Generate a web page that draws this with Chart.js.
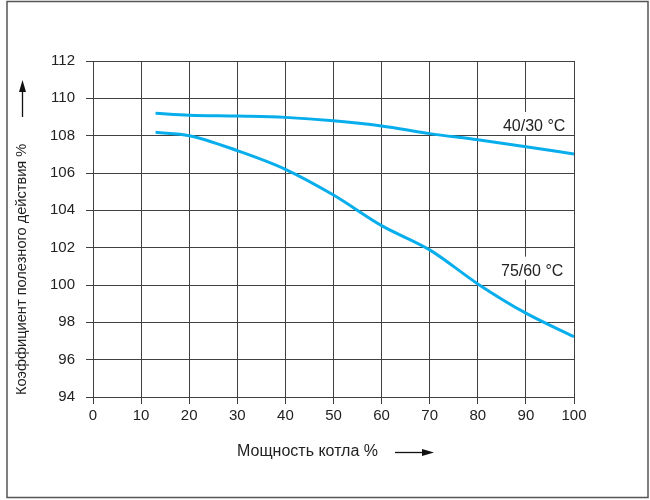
<!DOCTYPE html>
<html>
<head>
<meta charset="utf-8">
<script src="https://cdn.jsdelivr.net/npm/chart.js@4/dist/chart.umd.min.js"></script>
<style>
  html, body { margin: 0; padding: 0; background: #fff; }
  #wrap { width: 650px; height: 500px; position: relative; }
</style>
</head>
<body>
<div id="wrap"><canvas id="c" width="650" height="500"></canvas></div>
<script>
const loadPct = [13, 20, 30, 40, 50, 60, 70, 80, 90, 100];
const eff4030 = [109.2, 109.1, 109.05, 108.98, 108.8, 108.52, 108.11, 107.78, 107.41, 107.02];
const eff7560 = [108.18, 108.0, 107.2, 106.2, 104.82, 103.18, 101.88, 100.06, 98.49, 97.23];
const seriesLabels = ['40/30 °C', '75/60 °C'];
const xTitle = 'Мощность котла %';
const yTitle = 'Коэффициент полезного действия %';

const FONT = '"Liberation Sans", Arial, sans-serif';
const LINE = '#08aeec';
const GRID = '#404040';

const toPts = (arr) => loadPct.map((x, i) => ({ x: x, y: arr[i] }));

const decor = {
  id: 'decor',
  afterDraw(chart) {
    const ctx = chart.ctx;
    const xs = chart.scales.x, ys = chart.scales.y;
    ctx.save();
    // outer frame
    ctx.strokeStyle = '#555';
    ctx.lineWidth = 1.5;
    ctx.strokeRect(7, 1.5, 641, 496);

    // series labels with white background
    ctx.font = '16px ' + FONT;
    ctx.textAlign = 'right';
    ctx.textBaseline = 'alphabetic';
    const labs = [
      { t: seriesLabels[0], x: xs.getPixelForValue(98.2), y: ys.getPixelForValue(108.25) },
      { t: seriesLabels[1], x: xs.getPixelForValue(97.8), y: ys.getPixelForValue(100.5) }
    ];
    labs.forEach(l => {
      const w = ctx.measureText(l.t).width;
      ctx.fillStyle = '#fff';
      ctx.fillRect(l.x - w - 4, l.y - 19, w + 8, 23);
      ctx.fillStyle = '#222';
      ctx.fillText(l.t, l.x, l.y);
    });

    // x title + arrow
    ctx.font = '16px ' + FONT;
    ctx.fillStyle = '#222';
    ctx.textAlign = 'left';
    ctx.textBaseline = 'middle';
    ctx.fillText(xTitle, 237, 452);
    ctx.strokeStyle = '#111';
    ctx.lineWidth = 1.3;
    ctx.beginPath(); ctx.moveTo(395, 452.5); ctx.lineTo(424, 452.5); ctx.stroke();
    ctx.fillStyle = '#111';
    ctx.beginPath(); ctx.moveTo(434, 452.5); ctx.lineTo(422, 449); ctx.lineTo(422, 456); ctx.closePath(); ctx.fill();

    // y title + arrow
    ctx.save();
    ctx.translate(22, 395);
    ctx.rotate(-Math.PI / 2);
    ctx.font = '14.6px ' + FONT;
    ctx.textAlign = 'left';
    ctx.textBaseline = 'middle';
    ctx.fillStyle = '#222';
    ctx.fillText(yTitle, 0, 0);
    ctx.restore();
    ctx.beginPath(); ctx.moveTo(22.5, 117); ctx.lineTo(22.5, 90); ctx.stroke();
    ctx.beginPath(); ctx.moveTo(22.5, 80); ctx.lineTo(19, 92); ctx.lineTo(26, 92); ctx.closePath(); ctx.fill();
    ctx.restore();
  }
};

new Chart(document.getElementById('c'), {
  type: 'line',
  data: {
    datasets: [
      { label: seriesLabels[0], data: toPts(eff4030), borderColor: LINE, borderWidth: 3, pointRadius: 0, cubicInterpolationMode: 'monotone', fill: false },
      { label: seriesLabels[1], data: toPts(eff7560), borderColor: LINE, borderWidth: 3, pointRadius: 0, cubicInterpolationMode: 'monotone', fill: false }
    ]
  },
  options: {
    responsive: false,
    animation: false,
    devicePixelRatio: 1,
    layout: { padding: { left: 0, top: 61, right: 76, bottom: 0 } },
    plugins: { legend: { display: false }, tooltip: { enabled: false }, title: { display: false } },
    scales: {
      x: {
        type: 'linear', min: 0, max: 100,
        ticks: { stepSize: 10, color: '#222', font: { family: FONT, size: 15 }, padding: 3, maxRotation: 0 },
        grid: { color: GRID, lineWidth: 1, tickLength: 7, drawTicks: true },
        border: { color: GRID, width: 1 },
        afterFit(s) { s.height = 103; }
      },
      y: {
        min: 94, max: 112,
        ticks: { stepSize: 2, color: '#222', font: { family: FONT, size: 15 }, padding: 11 },
        grid: { color: GRID, lineWidth: 1, tickLength: 7, drawTicks: true },
        border: { color: GRID, width: 1 },
        afterFit(s) { s.width = 93; }
      }
    }
  },
  plugins: [decor]
});
</script>
</body>
</html>
